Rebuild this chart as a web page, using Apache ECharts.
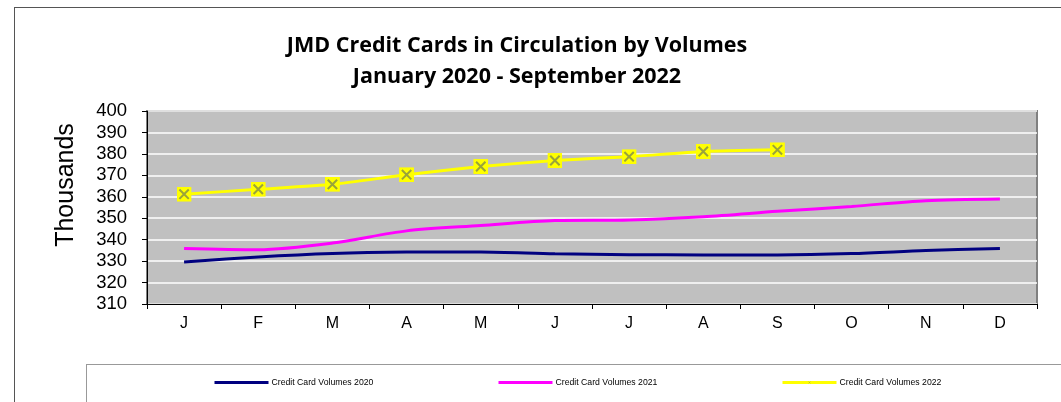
<!DOCTYPE html>
<html>
<head>
<meta charset="utf-8">
<script src="https://cdn.jsdelivr.net/npm/echarts@6/dist/echarts.min.js"></script>
<style>
  html, body { margin: 0; padding: 0; background: #fff; }
  #frame { position: absolute; left: 14px; top: 7px; width: 1100px; height: 500px; border: 1px solid #555; }
  #legendBox { position: absolute; left: 86px; top: 364px; width: 1100px; height: 100px; border: 1px solid #999; }
  #chart { position: absolute; left: 0; top: 0; width: 1061px; height: 402px; }
</style>
</head>
<body>
<div id="frame"></div>
<div id="legendBox"></div>
<div id="chart"></div>
<script>
  // values, in thousands
  const months = ['J', 'F', 'M', 'A', 'M', 'J', 'J', 'A', 'S', 'O', 'N', 'D']
  const volumes2020 = [329.6, 331.9, 333.5, 334.2, 334.3, 333.4, 333.0, 332.9, 332.9, 333.5, 334.9, 335.9]
  const volumes2021 = [335.9, 335.3, 338.4, 344.1, 346.6, 348.9, 349.2, 350.7, 353.2, 355.5, 358.2, 359.0]
  const volumes2022 = [361.2, 363.5, 365.8, 370.3, 374.1, 376.9, 378.7, 381.1, 381.9]
  const seriesNames = ['Credit Card Volumes 2020', 'Credit Card Volumes 2021', 'Credit Card Volumes 2022']

  const markerSvg = '<svg xmlns="http://www.w3.org/2000/svg" width="16" height="16">' +
    '<rect x="0" y="0" width="16" height="16" fill="#ffff00"/>' +
    '<path d="M3 3 L13 13 M13 3 L3 13" stroke="#9aa43a" stroke-width="2.2"/></svg>'
  const marker = 'image://data:image/svg+xml;charset=utf-8,' + encodeURIComponent(markerSvg)

  const chart = echarts.init(document.getElementById('chart'))

  function legendAt(name, left, withMark) {
    return {
      data: [name],
      left: left,
      top: 378,
      padding: 0,
      itemWidth: 54,
      itemHeight: withMark ? 4 : 10,
      itemGap: 0,
      itemStyle: withMark ? { color: '#9aa43a', borderWidth: 0 } : { opacity: 0 },
      lineStyle: { width: 3 },
      textStyle: { fontFamily: 'Liberation Sans', fontSize: 8.7, color: '#000', padding: [0, 0, 0, -2] },
      selectedMode: false
    }
  }

  chart.setOption({
    animation: false,
    title: {
      text: 'JMD Credit Cards in Circulation by Volumes\nJanuary 2020 - September 2022',
      left: 512,
      textAlign: 'center',
      top: 25,
      textStyle: {
        fontFamily: 'Open Sans',
        fontWeight: 'bold',
        fontSize: 21.5,
        lineHeight: 31,
        color: '#000'
      }
    },
    legend: [
      legendAt(seriesNames[0], 213, false),
      legendAt(seriesNames[1], 497, false),
      legendAt(seriesNames[2], 781, true)
    ],
    graphic: [{
      type: 'text',
      x: 66,
      y: 185,
      rotation: Math.PI / 2,
      style: {
        text: 'Thousands',
        fontFamily: 'Liberation Sans',
        fontSize: 25,
        fill: '#000',
        align: 'center',
        verticalAlign: 'middle'
      }
    }],
    grid: {
      left: 147,
      right: 24,
      top: 111,
      bottom: 98,
      show: true,
      backgroundColor: '#c0c0c0',
      borderColor: '#808080',
      borderWidth: 2
    },
    xAxis: {
      type: 'category',
      data: months,
      boundaryGap: true,
      axisLine: { lineStyle: { color: '#000', width: 1 } },
      axisTick: { show: true, interval: 0, length: 5, lineStyle: { color: '#000' } },
      axisLabel: { fontFamily: 'Liberation Sans', fontSize: 16, color: '#000', margin: 12 },
      splitLine: { show: false }
    },
    yAxis: {
      type: 'value',
      min: 310,
      max: 400,
      interval: 10,
      axisLine: { show: true, lineStyle: { color: '#000', width: 1 } },
      axisTick: { show: true, length: 5, lineStyle: { color: '#000' } },
      axisLabel: { fontFamily: 'Liberation Sans', fontSize: 18.5, color: '#000', margin: 20 },
      splitLine: { show: true, lineStyle: { color: '#ffffff', width: 1.5 } }
    },
    series: [
      {
        name: seriesNames[0],
        type: 'line',
        data: volumes2020,
        smooth: 0.3,
        symbol: 'none',
        lineStyle: { color: '#000080', width: 3 },
        itemStyle: { color: '#000080' }
      },
      {
        name: seriesNames[1],
        type: 'line',
        data: volumes2021,
        smooth: 0.3,
        symbol: 'none',
        lineStyle: { color: '#ff00ff', width: 3 },
        itemStyle: { color: '#ff00ff' }
      },
      {
        name: seriesNames[2],
        type: 'line',
        data: volumes2022,
        smooth: 0.2,
        symbol: marker,
        symbolSize: 15,
        showAllSymbol: true,
        lineStyle: { color: '#ffff00', width: 3 },
        itemStyle: { color: '#ffff00' }
      }
    ]
  })
</script>
</body>
</html>
